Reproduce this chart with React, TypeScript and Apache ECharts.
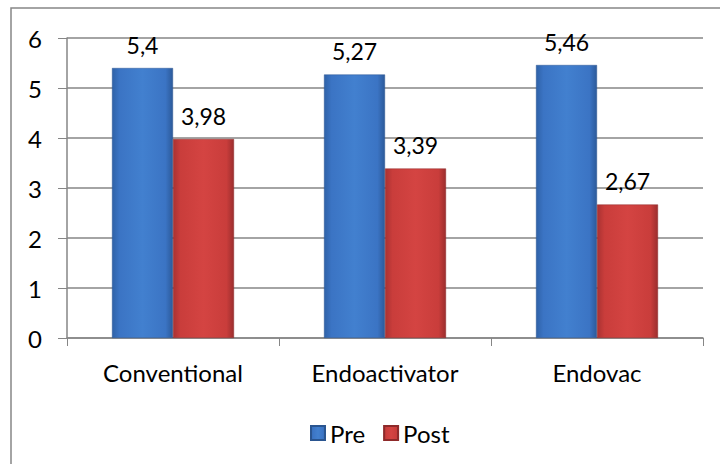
import React, { useEffect, useRef } from "react";
import * as echarts from "echarts";

const categories = ["Conventional", "Endoactivator", "Endovac"];
const preValues = [5.4, 5.27, 5.46];
const postValues = [3.98, 3.39, 2.67];
const seriesNames = ["Pre", "Post"];

const FONT = "Lato, 'Liberation Sans', sans-serif";
const FS = 24;

const blueGrad = new echarts.graphic.LinearGradient(0, 0, 1, 0, [
  { offset: 0, color: "#2f62a8" },
  { offset: 0.12, color: "#3b74c4" },
  { offset: 0.5, color: "#4280cf" },
  { offset: 0.88, color: "#3b74c4" },
  { offset: 1, color: "#2c5a9a" },
]);
const redGrad = new echarts.graphic.LinearGradient(0, 0, 1, 0, [
  { offset: 0, color: "#a93232" },
  { offset: 0.12, color: "#c93d3b" },
  { offset: 0.5, color: "#d44442" },
  { offset: 0.88, color: "#c93d3b" },
  { offset: 1, color: "#9c2e2e" },
]);

const fmt = (v: number) => String(v).replace(".", ",");

export default function App() {
  const ref = useRef<HTMLDivElement>(null);
  useEffect(() => {
    if (!ref.current) return;
    const chart = echarts.init(ref.current, null, { renderer: "svg" });
    const label = {
      show: true,
      position: "top" as const,
      distance: 12,
      fontFamily: FONT,
      fontSize: 23,
      color: "#000",
      formatter: (p: any) => fmt(p.value),
    };
    chart.setOption({
      animation: false,
      backgroundColor: "#fff",
      textStyle: { fontFamily: FONT },
      graphic: [
        {
          type: "rect",
          shape: { x: 11, y: 8, width: 760, height: 520 },
          style: { fill: "none", stroke: "#868686", lineWidth: 1.5 },
          silent: true,
          z: -1,
        },
      ],
      grid: { left: 67, right: 17, top: 38, bottom: 126 },
      legend: {
        left: 305,
        top: 416,
        itemWidth: 14,
        itemHeight: 14,
        itemGap: 18,
        icon: "rect",
        textStyle: { fontFamily: FONT, fontSize: FS, color: "#000" },
        data: seriesNames,
      },
      xAxis: {
        type: "category",
        data: categories,
        axisLine: { lineStyle: { color: "#868686", width: 1.5 } },
        axisTick: { show: true, length: 8, lineStyle: { color: "#868686" } },
        axisLabel: { fontFamily: FONT, fontSize: FS, color: "#000", margin: 22 },
      },
      yAxis: {
        type: "value",
        min: 0,
        max: 6,
        interval: 1,
        axisLine: { show: true, lineStyle: { color: "#868686", width: 1.5 } },
        axisTick: { show: true, length: 9, lineStyle: { color: "#868686" } },
        axisLabel: { fontFamily: FONT, fontSize: FS, color: "#000", margin: 25 },
        splitLine: { lineStyle: { color: "#868686", width: 1.5 } },
      },
      series: [
        {
          name: seriesNames[0],
          type: "bar",
          data: preValues,
          barWidth: 61,
          barGap: "0%",
          itemStyle: { color: blueGrad, borderColor: "#2a5590", borderWidth: 0.5 },
          label,
        },
        {
          name: seriesNames[1],
          type: "bar",
          data: postValues,
          barWidth: 61,
          barGap: "0%",
          itemStyle: { color: redGrad, borderColor: "#8e2a2a", borderWidth: 0.5 },
          label,
        },
      ],
    });
    return () => chart.dispose();
  }, []);
  return (
    <div
      ref={ref}
      style={{ position: "fixed", left: 0, top: 0, width: 720, height: 464 }}
    />
  );
}
